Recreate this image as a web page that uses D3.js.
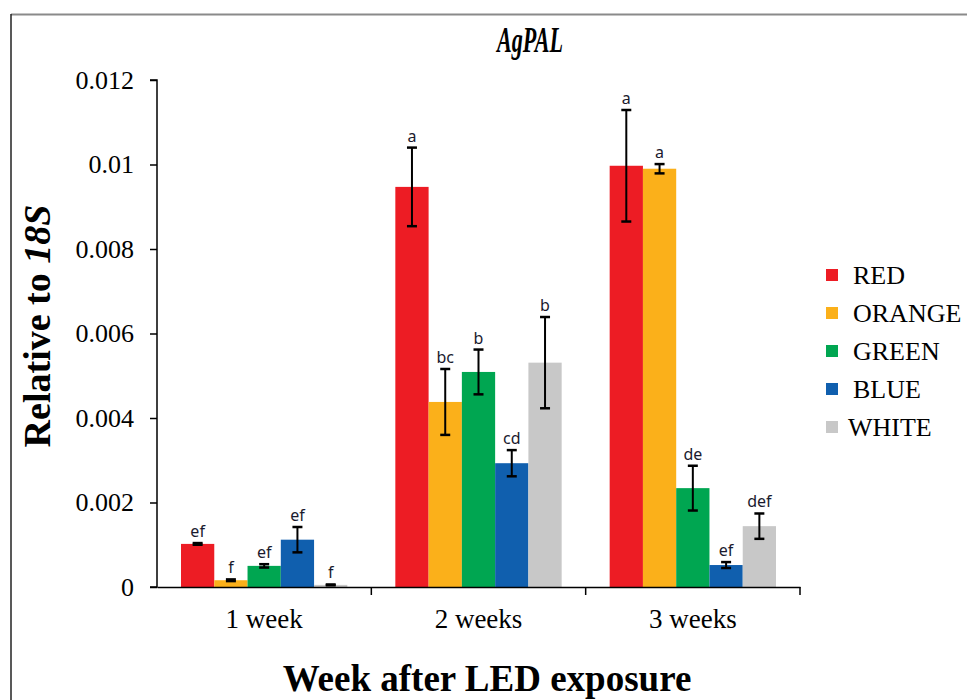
<!DOCTYPE html>
<html>
<head>
<meta charset="utf-8">
<script src="https://cdn.jsdelivr.net/npm/d3@7"></script>
<style>
  body { margin: 0; background: #fff; }
  svg { display: block; }
</style>
</head>
<body>
<script>
// data
const weeks = ['1 week', '2 weeks', '3 weeks'];
const lights = ['RED', 'ORANGE', 'GREEN', 'BLUE', 'WHITE'];
const colors = ['#ed1c24', '#fbb01a', '#00a651', '#105fae', '#c8c8c8'];
const means = [
  [0.00102, 0.00016, 0.00050, 0.00112, 0.00005],
  [0.00947, 0.00438, 0.00509, 0.00293, 0.00531],
  [0.00997, 0.00990, 0.00234, 0.00052, 0.00144]
];
const errs = [
  [0.00002, 0.00002, 0.00004, 0.00030, 0.00001],
  [0.00093, 0.00078, 0.00053, 0.00031, 0.00108],
  [0.00132, 0.00011, 0.00053, 0.00007, 0.00030]
];
const letters = [
  ['ef', 'f', 'ef', 'ef', 'f'],
  ['a', 'bc', 'b', 'cd', 'b'],
  ['a', 'a', 'de', 'ef', 'def']
];
const yTicks = [0, 0.002, 0.004, 0.006, 0.008, 0.01, 0.012];

const W = 967, H = 700;
const margin = {left: 157, right: 800, top: 80, bottom: 587};
const serif = '"Liberation Serif", "Times New Roman", serif';
const sans = '"Noto Sans", "Open Sans", sans-serif';

const svg = d3.select('body').append('svg')
  .attr('width', W)
  .attr('height', H);

// frame
svg.append('line').attr('x1', 11).attr('x2', W).attr('y1', 14.5).attr('y2', 14.5)
  .attr('stroke', '#8a8a8a').attr('stroke-width', 2);
svg.append('line').attr('x1', 11).attr('x2', 11).attr('y1', 14).attr('y2', H)
  .attr('stroke', '#222').attr('stroke-width', 1.5);

const x0 = d3.scaleBand()
  .domain(weeks)
  .range([margin.left, margin.right])
  .paddingInner(0)
  .paddingOuter(0);

const x1 = d3.scaleBand()
  .domain(lights)
  .range([24, x0.bandwidth() - 24])
  .padding(0);

const y = d3.scaleLinear()
  .domain([0, 0.012])
  .range([margin.bottom, margin.top]);

const color = d3.scaleOrdinal().domain(lights).range(colors);

// bars
const groups = svg.selectAll('g.week')
  .data(weeks)
  .enter().append('g')
  .attr('class', 'week')
  .attr('transform', d => `translate(${x0(d)},0)`);

const cells = groups.selectAll('g.bar')
  .data((w, i) => lights.map((l, j) => ({
    light: l, mean: means[i][j], err: errs[i][j], letter: letters[i][j]
  })))
  .enter().append('g')
  .attr('class', 'bar');

cells.append('rect')
  .attr('x', d => x1(d.light))
  .attr('y', d => y(d.mean))
  .attr('width', x1.bandwidth())
  .attr('height', d => y(0) - y(d.mean))
  .attr('fill', d => color(d.light));

// error bars
const cx = d => x1(d.light) + x1.bandwidth() / 2;
const hi = d => y(d.mean + d.err);
const lo = d => y(Math.max(0, d.mean - d.err));
cells.append('line')
  .attr('x1', cx).attr('x2', cx)
  .attr('y1', hi).attr('y2', lo)
  .attr('stroke', '#000').attr('stroke-width', 2);
cells.append('line')
  .attr('x1', d => cx(d) - 5).attr('x2', d => cx(d) + 5)
  .attr('y1', hi).attr('y2', hi)
  .attr('stroke', '#000').attr('stroke-width', 2.5);
cells.append('line')
  .attr('x1', d => cx(d) - 5).attr('x2', d => cx(d) + 5)
  .attr('y1', lo).attr('y2', lo)
  .attr('stroke', '#000').attr('stroke-width', 2.5);

// significance letters
cells.append('text')
  .attr('x', cx)
  .attr('y', d => hi(d) - 6)
  .attr('text-anchor', 'middle')
  .style('font-family', sans)
  .style('font-size', '16px')
  .style('fill', '#1a1a2e')
  .text(d => d.letter);

// y axis
const yAxis = svg.append('g')
  .attr('transform', `translate(${margin.left},0)`)
  .call(d3.axisLeft(y).tickValues(yTicks).tickSize(7).tickPadding(16)
    .tickFormat(d => d === 0 ? '0' : String(+d.toFixed(3))));
yAxis.select('.domain').attr('stroke', '#000').attr('stroke-width', 1.5)
  .attr('d', `M-7,${margin.top}H0V${margin.bottom}H-7`);
yAxis.selectAll('.tick line').attr('stroke', '#000').attr('stroke-width', 1.5);
yAxis.selectAll('.tick text')
  .style('font-family', serif)
  .style('font-size', '26px')
  .style('fill', '#000');

// x axis
const xAxis = svg.append('g')
  .attr('transform', `translate(0,${margin.bottom})`)
  .call(d3.axisBottom(x0).tickSize(0).tickPadding(22));
xAxis.select('.domain').attr('stroke', '#000').attr('stroke-width', 1.5);
xAxis.selectAll('.tick text')
  .style('font-family', serif)
  .style('font-size', '27px')
  .style('fill', '#000');
// separators between the week groups
xAxis.selectAll('line.sep')
  .data(weeks)
  .enter().append('line')
  .attr('class', 'sep')
  .attr('x1', d => x0(d) + x0.bandwidth()).attr('x2', d => x0(d) + x0.bandwidth())
  .attr('y1', 0).attr('y2', 8)
  .attr('stroke', '#000').attr('stroke-width', 1.5);

// title
svg.append('text')
  .attr('x', 530).attr('y', 52)
  .attr('text-anchor', 'middle')
  .attr('textLength', 66)
  .attr('lengthAdjust', 'spacingAndGlyphs')
  .style('font-family', serif)
  .style('font-size', '35px')
  .style('font-weight', 'bold')
  .style('font-style', 'italic')
  .text('AgPAL');

// y label
const yl = svg.append('text')
  .attr('transform', 'translate(50,326) rotate(-90)')
  .attr('text-anchor', 'middle')
  .style('font-family', serif)
  .style('font-size', '38px')
  .style('font-weight', 'bold');
yl.append('tspan').text('Relative to ');
yl.append('tspan').style('font-style', 'italic').text('18S');

// x label
svg.append('text')
  .attr('x', 487).attr('y', 691)
  .attr('text-anchor', 'middle')
  .style('font-family', serif)
  .style('font-size', '37px')
  .style('font-weight', 'bold')
  .text('Week after LED exposure');

// legend
const legend = svg.append('g').attr('transform', 'translate(826,275)');
const item = legend.selectAll('g')
  .data(lights)
  .enter().append('g')
  .attr('transform', (d, i) => `translate(0,${i * 38})`);
item.append('rect')
  .attr('x', 0).attr('y', -6)
  .attr('width', 12).attr('height', 12)
  .attr('fill', d => color(d));
item.append('text')
  .attr('x', d => d === 'WHITE' ? 22 : 27)
  .attr('y', 9)
  .style('font-family', serif)
  .style('font-size', '26px')
  .style('fill', '#000')
  .text(d => d);
</script>
</body>
</html>
